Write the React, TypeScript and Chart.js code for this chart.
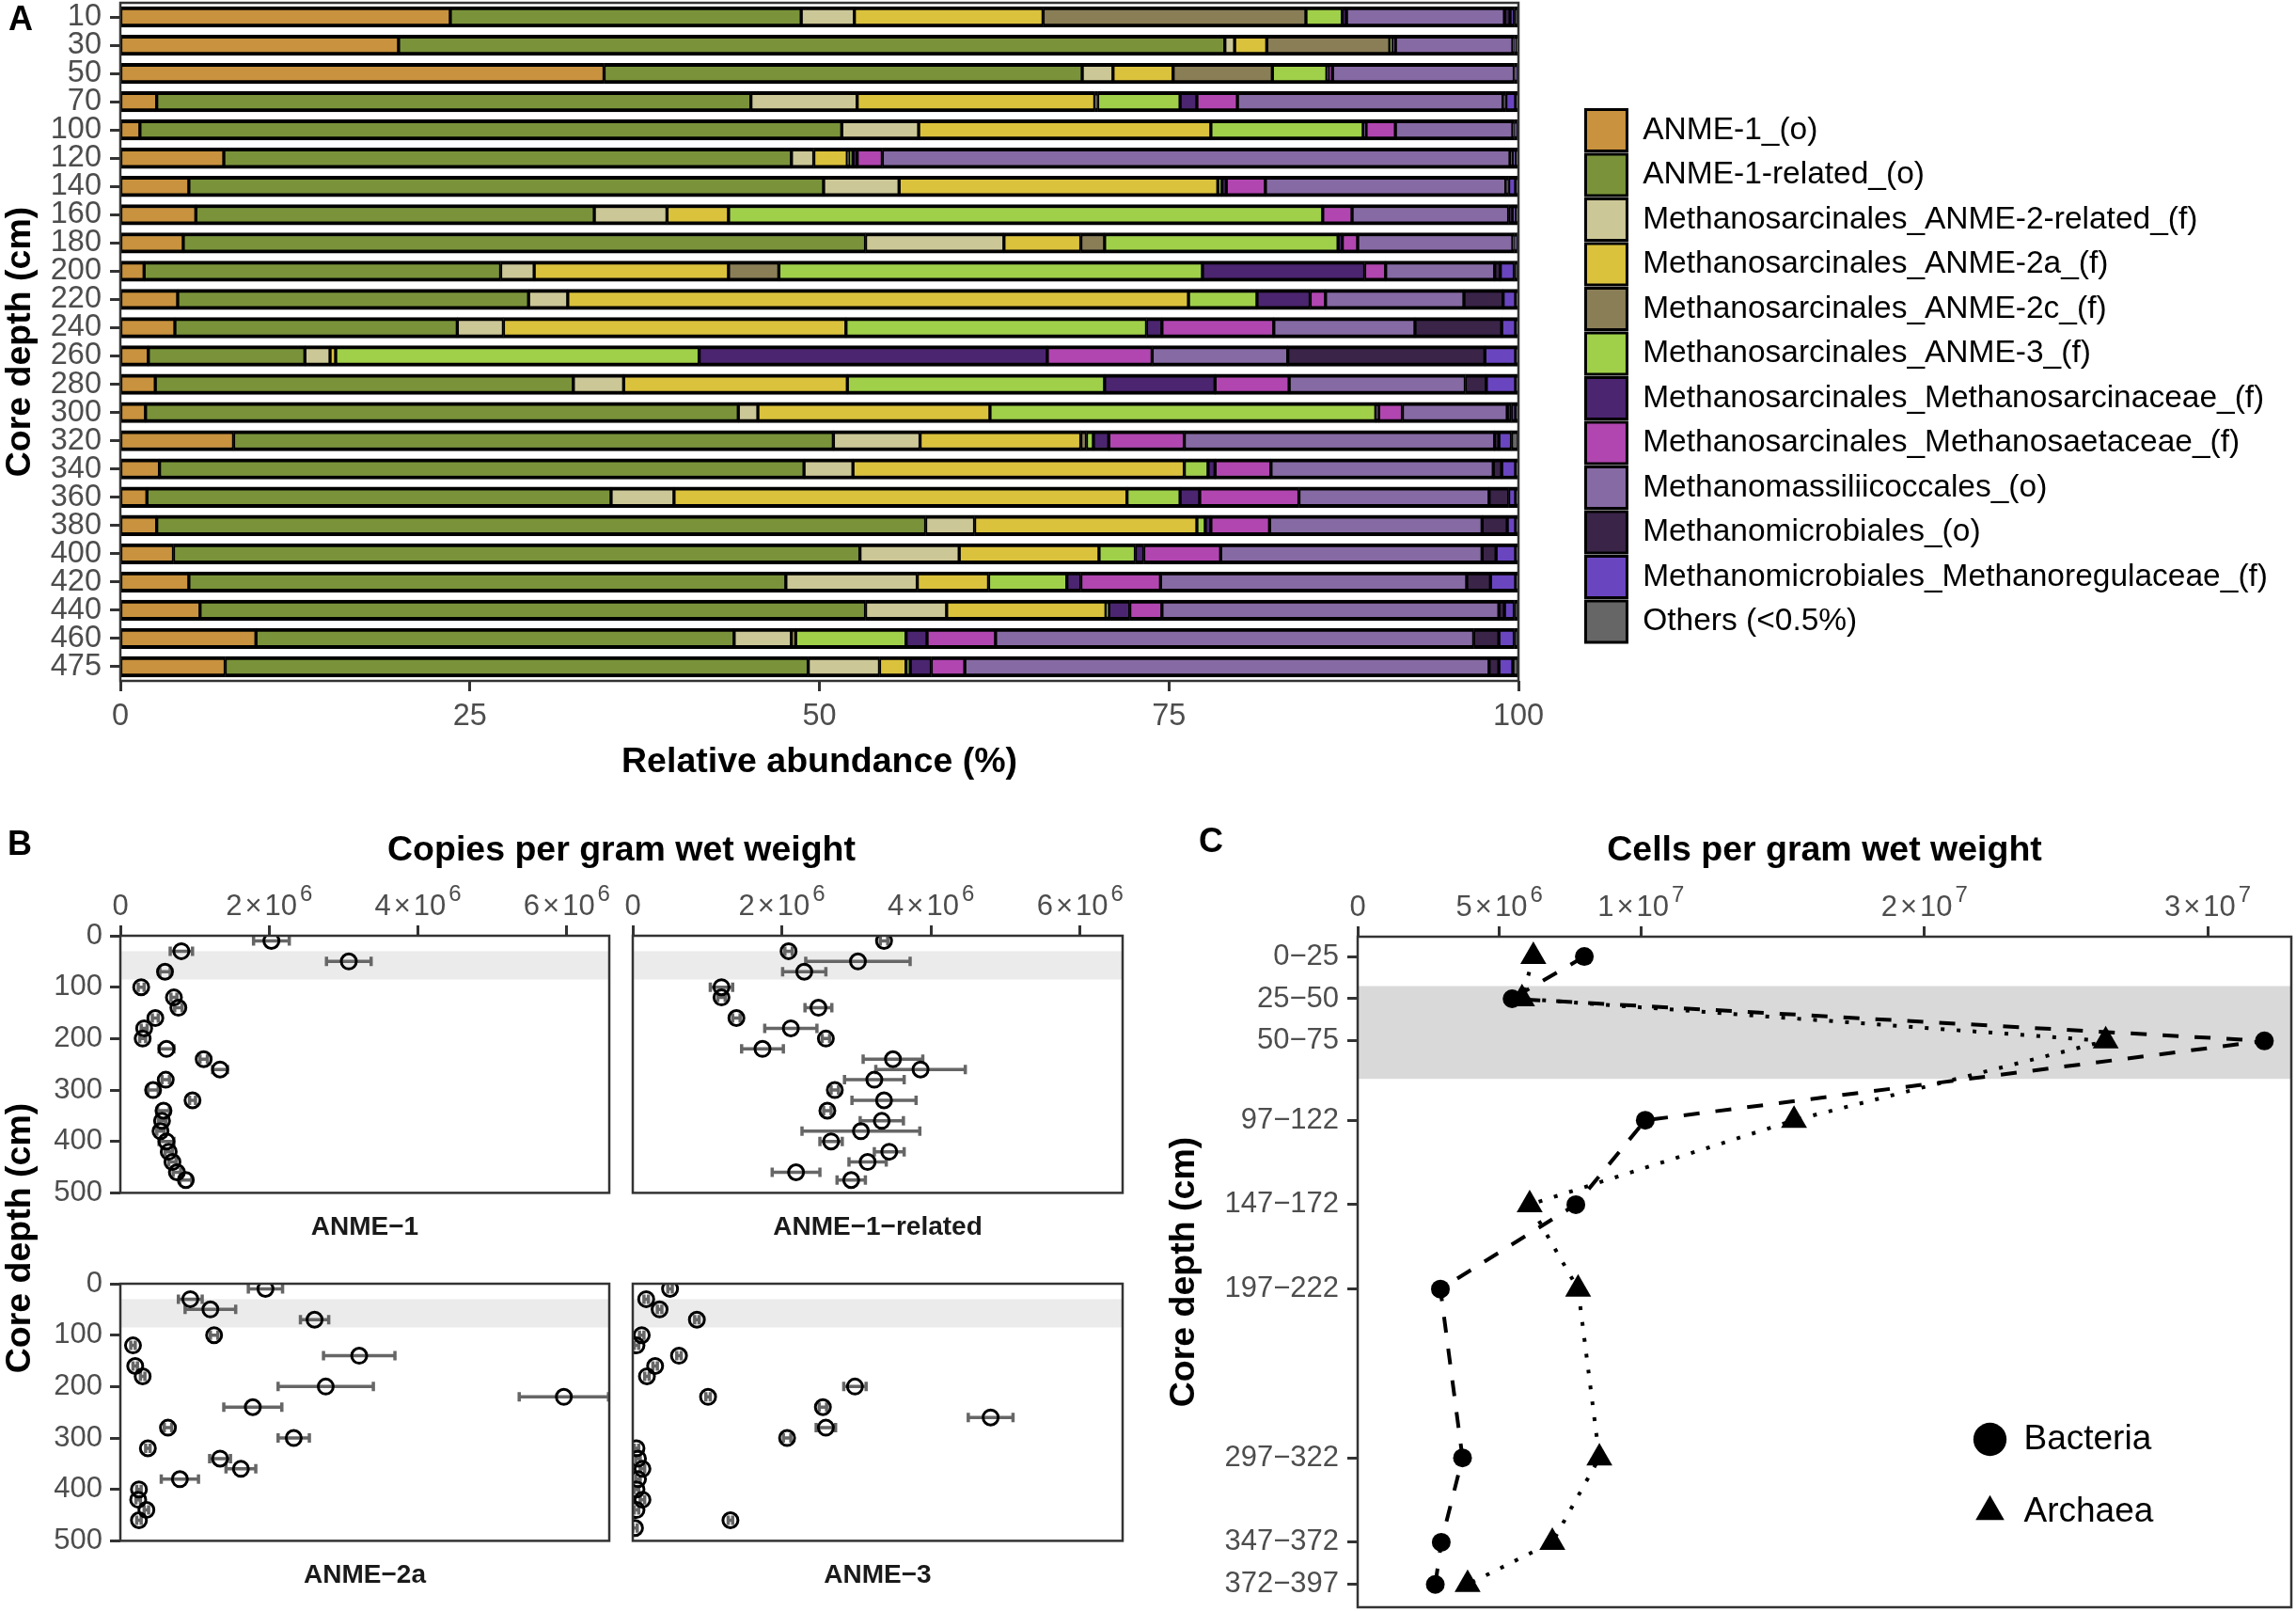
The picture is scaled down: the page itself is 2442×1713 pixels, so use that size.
import React, { useEffect, useMemo, useRef } from "react";
import { Chart, registerables } from "chart.js";

Chart.register(...registerables);

const FONT = '"Liberation Sans", Arial, "DejaVu Sans", sans-serif';
Chart.defaults.font.family = FONT;
Chart.defaults.color = "#4D4D4D";

const TICK_COLOR = "#4D4D4D";
const FRAME_COLOR = "#333333";
const TICK_SIZE_A = 32.5;
const TICK_SIZE = 31;
const TITLE_SIZE = 37.5;
const LEGEND_A_SIZE = 33.5;

// ---------------- Panel A: relative abundance ----------------
const depthsA = ["10", "30", "50", "70", "100", "120", "140", "160", "180", "200", "220", "240", "260", "280", "300", "320", "340", "360", "380", "400", "420", "440", "460", "475"];

const taxa = [
  "ANME-1_(o)",
  "ANME-1-related_(o)",
  "Methanosarcinales_ANME-2-related_(f)",
  "Methanosarcinales_ANME-2a_(f)",
  "Methanosarcinales_ANME-2c_(f)",
  "Methanosarcinales_ANME-3_(f)",
  "Methanosarcinales_Methanosarcinaceae_(f)",
  "Methanosarcinales_Methanosaetaceae_(f)",
  "Methanomassiliicoccales_(o)",
  "Methanomicrobiales_(o)",
  "Methanomicrobiales_Methanoregulaceae_(f)",
  "Others (<0.5%)",
];

const taxaColors = ["#C9923E", "#7A933A", "#CCC797", "#DBC23D", "#8A7E57", "#A0D04A", "#4B2570", "#B146B0", "#866AA4", "#3A2448", "#6A45C0", "#666666"];

const anme1 = [23.6, 19.9, 34.6, 2.6, 1.4, 7.4, 4.9, 5.4, 4.5, 1.7, 4.1, 3.9, 2.0, 2.5, 1.8, 8.1, 2.8, 1.9, 2.6, 3.8, 4.9, 5.7, 9.7, 7.5];
const anme1Related = [25.1, 59.1, 34.2, 42.5, 50.2, 40.6, 45.4, 28.5, 48.8, 25.5, 25.1, 20.2, 11.2, 29.9, 42.4, 42.9, 46.1, 33.2, 55.0, 49.1, 42.7, 47.6, 34.2, 41.7];
const anme2Related = [3.8, 0.7, 2.2, 7.6, 5.5, 1.6, 5.4, 5.2, 9.9, 2.4, 2.8, 3.3, 1.8, 3.6, 1.4, 6.2, 3.5, 4.5, 3.5, 7.1, 9.4, 5.8, 4.1, 5.1];
const anme2a = [13.5, 2.3, 4.3, 17.0, 20.9, 2.4, 22.8, 4.4, 5.5, 13.9, 44.4, 24.5, 0.4, 16.0, 16.6, 11.5, 23.7, 32.4, 15.9, 10.0, 5.1, 11.4, 0.3, 1.9];
const anme2c = [18.8, 8.8, 7.1, 0.2, 0, 0.1, 0, 0, 1.7, 3.6, 0, 0, 0, 0, 0, 0.4, 0, 0, 0, 0, 0, 0, 0, 0];
const anme3 = [2.6, 0.2, 3.9, 5.9, 10.9, 0.3, 0.3, 42.5, 16.7, 30.3, 4.9, 21.5, 26.0, 18.4, 27.6, 0.5, 1.7, 3.8, 0.6, 2.6, 5.6, 0.2, 7.9, 0.3];
const sarcinaceae = [0.3, 0.2, 0.1, 1.2, 0.2, 0.3, 0.3, 0, 0.3, 11.6, 3.8, 1.1, 24.9, 7.9, 0.2, 1.1, 0.5, 1.4, 0.4, 0.6, 1.0, 1.5, 1.5, 1.5];
const saetaceae = [0, 0, 0.3, 2.9, 2.1, 1.8, 2.8, 2.1, 1.1, 1.5, 1.1, 8.0, 7.5, 5.3, 1.7, 5.4, 4.0, 7.1, 4.2, 5.5, 5.7, 2.3, 4.9, 2.4];
const massilii = [11.3, 8.4, 13.0, 19.0, 8.4, 44.9, 17.2, 11.2, 11.1, 7.8, 9.9, 10.1, 9.7, 12.6, 7.5, 22.2, 15.9, 13.6, 15.2, 18.7, 21.9, 24.1, 34.2, 37.5];
const microbiales = [0.4, 0.1, 0.1, 0.2, 0.1, 0.2, 0.2, 0.3, 0.1, 0.4, 2.8, 6.2, 14.1, 1.5, 0.3, 0.3, 0.6, 1.4, 1.8, 1.0, 1.7, 0.4, 1.8, 0.7];
const regulaceae = [0.3, 0.1, 0.1, 0.7, 0.2, 0.2, 0.5, 0.2, 0.2, 1.0, 0.9, 1.0, 2.2, 2.1, 0.3, 0.9, 1.0, 0.5, 0.6, 1.4, 1.8, 0.7, 1.1, 1.0];
const others = [0.3, 0.2, 0.1, 0.2, 0.1, 0.2, 0.2, 0.2, 0.1, 0.3, 0.2, 0.2, 0.2, 0.2, 0.2, 0.5, 0.2, 0.2, 0.2, 0.2, 0.2, 0.3, 0.3, 0.4];

const abundanceSeries = [anme1, anme1Related, anme2Related, anme2a, anme2c, anme3, sarcinaceae, saetaceae, massilii, microbiales, regulaceae, others];
const xTicksA = [0, 25, 50, 75, 100];

// ---------------- Panel B: qPCR copies ----------------
const depthsB = [10, 30, 50, 70, 100, 120, 140, 160, 180, 200, 220, 240, 260, 280, 300, 320, 340, 360, 380, 400, 420, 440, 460, 475];
const anme1Copies = [2.03e6, 0.82e6, 3.07e6, 0.6e6, 0.28e6, 0.72e6, 0.78e6, 0.47e6, 0.32e6, 0.3e6, 0.62e6, 1.12e6, 1.34e6, 0.61e6, 0.44e6, 0.97e6, 0.58e6, 0.56e6, 0.54e6, 0.62e6, 0.65e6, 0.7e6, 0.76e6, 0.88e6];
const anme1Err = [0.24e6, 0.15e6, 0.3e6, 0.07e6, 0.04e6, 0.04e6, 0.05e6, 0.04e6, 0.04e6, 0.04e6, 0.1e6, 0.05e6, 0.1e6, 0.05e6, 0.07e6, 0.04e6, 0.08e6, 0.05e6, 0.05e6, 0.1e6, 0.05e6, 0.05e6, 0.05e6, 0.08e6];
const anme1RelCopies = [3.37e6, 2.09e6, 3.02e6, 2.3e6, 1.19e6, 1.19e6, 2.49e6, 1.39e6, 2.12e6, 2.59e6, 1.74e6, 3.49e6, 3.86e6, 3.24e6, 2.71e6, 3.37e6, 2.61e6, 3.34e6, 3.06e6, 2.66e6, 3.44e6, 3.15e6, 2.19e6, 2.93e6];
const anme1RelErr = [0.05e6, 0.05e6, 0.7e6, 0.29e6, 0.15e6, 0.05e6, 0.18e6, 0.05e6, 0.35e6, 0.05e6, 0.28e6, 0.4e6, 0.6e6, 0.4e6, 0.05e6, 0.43e6, 0.05e6, 0.29e6, 0.79e6, 0.15e6, 0.2e6, 0.25e6, 0.32e6, 0.19e6];
const depthsB2a = [10, 30, 50, 70, 100, 120, 140, 160, 180, 200, 220, 240, 280, 300, 320, 340, 360, 380, 400, 420, 440, 460];
const anme2aCopies = [1.95e6, 0.94e6, 1.21e6, 2.61e6, 1.26e6, 0.17e6, 3.21e6, 0.2e6, 0.3e6, 2.76e6, 5.96e6, 1.78e6, 0.64e6, 2.33e6, 0.37e6, 1.34e6, 1.62e6, 0.8e6, 0.25e6, 0.24e6, 0.35e6, 0.25e6];
const anme2aErr = [0.23e6, 0.16e6, 0.34e6, 0.19e6, 0.05e6, 0.03e6, 0.48e6, 0.03e6, 0.03e6, 0.64e6, 0.6e6, 0.39e6, 0.05e6, 0.21e6, 0.03e6, 0.14e6, 0.2e6, 0.25e6, 0.03e6, 0.03e6, 0.03e6, 0.03e6];
const anme3Copies = [0.5e6, 0.18e6, 0.36e6, 0.86e6, 0.12e6, 0.05e6, 0.62e6, 0.3e6, 0.19e6, 2.98e6, 1.01e6, 2.55e6, 4.8e6, 2.59e6, 2.07e6, 0.05e6, 0.07e6, 0.13e6, 0.07e6, 0.05e6, 0.13e6, 0.05e6, 1.31e6, 0.03e6];
const anme3Err = [0.03e6, 0.03e6, 0.03e6, 0.03e6, 0.03e6, 0.03e6, 0.03e6, 0.03e6, 0.03e6, 0.15e6, 0.03e6, 0.05e6, 0.3e6, 0.13e6, 0.05e6, 0.03e6, 0.03e6, 0.03e6, 0.03e6, 0.03e6, 0.03e6, 0.03e6, 0.03e6, 0.03e6];
const xTicksB = [0, 2e6, 4e6, 6e6];
const X_MAX_B = 6.57e6;

// ---------------- Panel C: cell counts ----------------
const depthMidC = [12.5, 37.5, 62.5, 109.5, 159.5, 209.5, 309.5, 359.5, 384.5];
const depthLabelsC = ["0\u221225", "25\u221250", "50\u221275", "97\u2212122", "147\u2212172", "197\u2212222", "297\u2212322", "347\u2212372", "372\u2212397"];
const bacteriaCells = [8.0e6, 5.45e6, 32.0e6, 10.15e6, 7.7e6, 2.92e6, 3.7e6, 2.95e6, 2.74e6];
const archaeaCells = [6.2e6, 5.8e6, 26.4e6, 15.4e6, 6.07e6, 7.78e6, 8.53e6, 6.87e6, 3.88e6];
const xTicksC = [0, 5e6, 1e7, 2e7, 3e7];
const X_MAX_C = 3.295e7;

const SMTZ_TOP = 30;
const SMTZ_BOTTOM = 85;

// ---------------- helpers ----------------
function tickGrid() {
  return { display: true, drawOnChartArea: false, drawTicks: true, tickLength: 11, tickWidth: 3, tickColor: FRAME_COLOR, offset: false };
}

function fixW(w: number) {
  return (s: any) => {
    if (s.options.display === false) return;
    s.width = w;
    s.paddingTop = 0;
    s.paddingBottom = 0;
  };
}
function fixH(h: number) {
  return (s: any) => {
    if (s.options.display === false) return;
    s.height = h;
    s.paddingLeft = 0;
    s.paddingRight = 0;
  };
}

const framePlugin = {
  id: "frame",
  afterDatasetsDraw(chart: any, _a: any, opts: any) {
    const { ctx, chartArea: a } = chart;
    ctx.save();
    ctx.strokeStyle = FRAME_COLOR;
    ctx.lineWidth = (opts && opts.width) || 2.5;
    ctx.strokeRect(a.left, a.top, a.right - a.left, a.bottom - a.top);
    ctx.restore();
  },
};

const bandPlugin = {
  id: "band",
  beforeDatasetsDraw(chart: any, _a: any, opts: any) {
    const { ctx, chartArea: a, scales } = chart;
    const y = scales.y;
    const p1 = y.getPixelForValue(opts.from);
    const p2 = y.getPixelForValue(opts.to);
    ctx.save();
    ctx.fillStyle = opts.color;
    ctx.fillRect(a.left, Math.min(p1, p2), a.right - a.left, Math.abs(p2 - p1));
    ctx.restore();
  },
};

const letterPlugin = {
  id: "letter",
  afterDraw(chart: any, _a: any, opts: any) {
    const { ctx } = chart;
    ctx.save();
    ctx.font = `bold ${opts.size}px ${FONT}`;
    ctx.fillStyle = "#000";
    ctx.textAlign = "center";
    ctx.textBaseline = "middle";
    ctx.fillText(opts.text, opts.x, opts.y);
    ctx.restore();
  },
};

// Draws "m × 10^e" tick labels of the x scale with a real superscript exponent.
const sciTickPlugin = {
  id: "sciTicks",
  afterDraw(chart: any, _a: any, opts: any) {
    const scale = chart.scales.x;
    if (!opts || scale.options.display === false) return;
    const { ctx } = chart;
    const base = `normal ${opts.size}px ${FONT}`;
    const sup = `normal ${opts.supSize}px ${FONT}`;
    const y = chart.chartArea.top - opts.offset;
    ctx.save();
    ctx.fillStyle = TICK_COLOR;
    ctx.textBaseline = "alphabetic";
    ctx.textAlign = "left";
    for (const t of scale.ticks) {
      const v = t.value;
      const x = scale.getPixelForValue(v);
      ctx.font = base;
      if (v === 0) {
        const w0 = ctx.measureText("0").width;
        ctx.fillText("0", x - w0 / 2, y);
        continue;
      }
      const e = Math.floor(Math.log10(v) + 1e-9);
      const m = Math.round(v / Math.pow(10, e));
      const parts = [String(m), "\u00D7", "10"];
      const widths = parts.map((s) => ctx.measureText(s).width);
      ctx.font = sup;
      const ex = String(e);
      const we = ctx.measureText(ex).width;
      const total = widths.reduce((a, b) => a + b, 0) + 2 * opts.gap + opts.supGap + we;
      let cx = x - total / 2;
      ctx.font = base;
      parts.forEach((s, i) => {
        ctx.fillText(s, cx, y);
        cx += widths[i] + (i < 2 ? opts.gap : 0);
      });
      ctx.font = sup;
      ctx.fillText(ex, cx + opts.supGap, y - opts.raise);
    }
    ctx.restore();
  },
};
const SCI_TICKS = { size: 31, supSize: 24, offset: 22.5, gap: 3, supGap: 3, raise: 15 };

const baseOptions = { responsive: false, animation: false, devicePixelRatio: 1, events: [] as any[] };

// ---------------- configs ----------------
function configA(): any {
  return {
    type: "bar",
    data: {
      labels: depthsA,
      datasets: taxa.map((name, i) => ({
        label: name,
        data: abundanceSeries[i],
        backgroundColor: taxaColors[i],
        borderColor: "#000000",
        borderWidth: { top: 4, bottom: 4, left: 2, right: 2 },
        borderSkipped: false,
        barThickness: 21.7,
      })),
    },
    options: {
      ...baseOptions,
      indexAxis: "y",
      layout: { padding: { top: 3, left: 0, right: 0, bottom: 0 } },
      scales: {
        x: {
          stacked: true,
          min: 0,
          max: 100,
          position: "bottom",
          afterBuildTicks: (s: any) => { s.ticks = xTicksA.map((v) => ({ value: v })); },
          ticks: { font: { size: TICK_SIZE_A }, color: TICK_COLOR, padding: 8, autoSkip: false, maxRotation: 0 },
          grid: tickGrid(),
          border: { display: false },
          title: { display: true, text: "Relative abundance (%)", font: { size: TITLE_SIZE, weight: "bold" }, color: "#000", padding: { top: 0, bottom: 17 } },
          afterFit: fixH(126),
        },
        y: {
          stacked: true,
          position: "left",
          ticks: { font: { size: TICK_SIZE_A }, color: TICK_COLOR, padding: 9, autoSkip: false },
          grid: tickGrid(),
          border: { display: false },
          title: { display: true, text: "Core depth (cm)", font: { size: TITLE_SIZE, weight: "bold" }, color: "#000", padding: { top: -1, bottom: 0 } },
          afterFit: fixW(128),
        },
        yRight: {
          type: "linear",
          position: "right",
          display: true,
          ticks: { display: false },
          grid: { display: false },
          border: { display: false },
          afterFit: (s: any) => { s.width = s.chart.width - 1615 - s.chart.legend.width; s.paddingTop = 0; s.paddingBottom = 0; },
        },
      },
      plugins: {
        legend: {
          display: true,
          position: "right",
          align: "start",
          maxWidth: 1000,
          title: { display: true, text: " ", font: { size: 10 }, padding: { top: 0, bottom: 98 } },
          labels: { boxWidth: 44, boxHeight: 44, padding: 3.5, font: { size: LEGEND_A_SIZE }, color: "#000" },
        },
        tooltip: { enabled: false },
        frame: { width: 2.5 },
        letter: { text: "A", x: 22, y: 22, size: 36 },
      },
    },
    plugins: [framePlugin, letterPlugin],
  };
}

function configFrameB(): any {
  return {
    type: "scatter",
    data: { datasets: [] },
    options: {
      ...baseOptions,
      layout: { padding: { right: 6, bottom: 32 } },
      scales: {
        x: {
          type: "linear", position: "top", min: 0, max: 1, display: true,
          ticks: { display: false }, grid: { display: false }, border: { display: false },
          title: { display: true, text: "Copies per gram wet weight", font: { size: TITLE_SIZE, weight: "bold" }, color: "#000", padding: { top: 12, bottom: 0 } },
          afterFit: fixH(125),
        },
        y: {
          type: "linear", position: "left", min: 0, max: 1, display: true,
          ticks: { display: false }, grid: { display: false }, border: { display: false },
          title: { display: true, text: "Core depth (cm)", font: { size: TITLE_SIZE, weight: "bold" }, color: "#000", padding: { top: -1, bottom: 0 } },
          afterFit: fixW(128),
        },
      },
      plugins: { legend: { display: false }, tooltip: { enabled: false }, letter: { text: "B", x: 21, y: 29, size: 36 } },
    },
    plugins: [letterPlugin],
  };
}

function configPanelB(p: { xs: number[]; ys: number[]; errs: number[]; strip: string; showX: boolean; showY: boolean; padding: any }): any {
  const points = {
    label: p.strip,
    data: p.xs.map((v, i) => ({ x: v, y: p.ys[i] })),
    showLine: false,
    pointStyle: "circle",
    pointRadius: 8,
    pointBorderWidth: 3,
    pointBorderColor: "#000000",
    pointBackgroundColor: "rgba(0,0,0,0)",
  };
  const errorBars = p.xs.map((v, i) => ({
    label: "err",
    data: [{ x: v - p.errs[i], y: p.ys[i] }, { x: v + p.errs[i], y: p.ys[i] }],
    showLine: true,
    borderColor: "#666666",
    borderWidth: 3.5,
    pointStyle: "line",
    rotation: 90,
    pointRadius: 5,
    pointBorderColor: "#666666",
    pointBorderWidth: 3.5,
    pointBackgroundColor: "#666666",
  }));
  return {
    type: "scatter",
    data: { datasets: [points, ...errorBars] },
    options: {
      ...baseOptions,
      layout: { padding: p.padding },
      scales: {
        x: {
          type: "linear", position: "top", min: 0, max: X_MAX_B, display: p.showX,
          afterBuildTicks: (s: any) => { s.ticks = xTicksB.map((v) => ({ value: v })); },
          ticks: { display: false },
          grid: tickGrid(), border: { display: false },
          afterFit: fixH(125),
        },
        y: {
          type: "linear", reverse: true, min: 0, max: 500, display: p.showY,
          ticks: { stepSize: 100, font: { size: TICK_SIZE }, color: TICK_COLOR, padding: 8, autoSkip: false },
          grid: tickGrid(), border: { display: false },
          afterFit: fixW(128),
        },
      },
      plugins: {
        legend: { display: false },
        tooltip: { enabled: false },
        title: { display: true, text: p.strip, position: "bottom", fullSize: false, font: { size: 28, weight: "bold" }, color: "#1A1A1A", padding: { top: 20, bottom: 10 } },
        band: { from: SMTZ_TOP, to: SMTZ_BOTTOM, color: "#EBEBEB" },
        frame: { width: 2.5 },
        sciTicks: SCI_TICKS,
      },
    },
    plugins: [bandPlugin, framePlugin, sciTickPlugin],
  };
}

function configC(): any {
  return {
    type: "scatter",
    data: {
      datasets: [
        {
          label: "Bacteria",
          data: bacteriaCells.map((v, i) => ({ x: v, y: depthMidC[i] })),
          showLine: true,
          borderColor: "#000000",
          borderWidth: 4,
          borderDash: [17, 17],
          pointStyle: "circle",
          pointRadius: 10,
          pointBorderWidth: 0,
          pointBackgroundColor: "#000000",
          backgroundColor: "#000000",
        },
        {
          label: "Archaea",
          data: archaeaCells.map((v, i) => ({ x: v, y: depthMidC[i] })),
          showLine: true,
          borderColor: "#000000",
          borderWidth: 4,
          borderDash: [4, 13],
          pointStyle: "triangle",
          pointRadius: 16,
          pointBorderWidth: 0,
          pointBackgroundColor: "#000000",
          backgroundColor: "#000000",
        },
      ],
    },
    options: {
      ...baseOptions,
      layout: { padding: { right: 25, bottom: 34 } },
      scales: {
        x: {
          type: "linear", position: "top", min: 0, max: X_MAX_C,
          afterBuildTicks: (s: any) => { s.ticks = xTicksC.map((v) => ({ value: v })); },
          ticks: { display: false },
          grid: tickGrid(), border: { display: false },
          title: { display: true, text: "Cells per gram wet weight", font: { size: TITLE_SIZE, weight: "bold" }, color: "#000", padding: { top: 12, bottom: 0 } },
          afterFit: fixH(126),
        },
        y: {
          type: "linear", reverse: true, min: 0.75, max: 398,
          afterBuildTicks: (s: any) => { s.ticks = depthMidC.map((v) => ({ value: v })); },
          ticks: { callback: (_v: any, i: number) => depthLabelsC[i], font: { size: TICK_SIZE }, color: TICK_COLOR, padding: 9, autoSkip: false },
          grid: tickGrid(), border: { display: false },
          title: { display: true, text: "Core depth (cm)", font: { size: TITLE_SIZE, weight: "bold" }, color: "#000", padding: { top: -1, bottom: 0 } },
          afterFit: fixW(206),
        },
      },
      plugins: {
        legend: { display: false },
        tooltip: { enabled: false },
        band: { from: SMTZ_TOP, to: SMTZ_BOTTOM, color: "#D9D9D9" },
        frame: { width: 2.5 },
        letter: { text: "C", x: 50, y: 26, size: 36 },
        sciTicks: SCI_TICKS,
      },
    },
    plugins: [bandPlugin, framePlugin, letterPlugin, sciTickPlugin],
  };
}

function configLegendC(): any {
  return {
    type: "scatter",
    data: {
      datasets: [
        { label: "Bacteria", data: [], pointStyle: "circle", pointBackgroundColor: "#000", backgroundColor: "#000", borderColor: "#000", pointBorderWidth: 0, borderWidth: 0 },
        { label: "Archaea", data: [], pointStyle: "triangle", pointBackgroundColor: "#000", backgroundColor: "#000", borderColor: "#000", pointBorderWidth: 0, borderWidth: 0 },
      ],
    },
    options: {
      ...baseOptions,
      scales: { x: { display: false, min: 0, max: 1 }, y: { display: false, min: 0, max: 1 } },
      plugins: {
        tooltip: { enabled: false },
        legend: {
          display: true,
          position: "left",
          align: "start",
          maxWidth: 340,
          labels: { usePointStyle: true, boxWidth: 35, boxHeight: 25, padding: 40, font: { size: 37 }, color: "#000" },
        },
      },
    },
  };
}

// ---------------- components ----------------
function ChartBox({ make, left, top, width, height }: { make: () => any; left: number; top: number; width: number; height: number }) {
  const ref = useRef<HTMLCanvasElement>(null);
  useEffect(() => {
    const chart = new Chart(ref.current as HTMLCanvasElement, make());
    return () => chart.destroy();
  }, []);
  return <canvas ref={ref} width={width} height={height} style={{ position: "absolute", left, top, width, height }} />;
}

function measureLegendWidth(): number {
  const c = document.createElement("canvas").getContext("2d");
  if (!c) return 660;
  c.font = `normal ${LEGEND_A_SIZE}px ${FONT}`;
  return Math.max(...taxa.map((t) => c.measureText(t).width));
}

export default function App() {
  const widthA = useMemo(() => Math.min(2442, Math.ceil(1756.75 + measureLegendWidth())), []);
  return (
    <div style={{ position: "absolute", left: 0, top: 0, width: 2442, height: 1713, background: "#ffffff", overflow: "hidden" }}>
      <ChartBox make={configA} left={0} top={0} width={widthA} height={850} />
      <ChartBox make={configFrameB} left={0} top={870} width={1200} height={800} />
      <ChartBox
        make={() => configPanelB({ xs: anme1Copies, ys: depthsB, errs: anme1Err, strip: "ANME\u22121", showX: true, showY: true, padding: { right: 12 } })}
        left={0} top={870} width={660} height={462}
      />
      <ChartBox
        make={() => configPanelB({ xs: anme1RelCopies, ys: depthsB, errs: anme1RelErr, strip: "ANME\u22121\u2212related", showX: true, showY: false, padding: { left: 13, right: 11 } })}
        left={660} top={870} width={545} height={462}
      />
      <ChartBox
        make={() => configPanelB({ xs: anme2aCopies, ys: depthsB2a, errs: anme2aErr, strip: "ANME\u22122a", showX: false, showY: true, padding: { top: 25, right: 12 } })}
        left={0} top={1340} width={660} height={362}
      />
      <ChartBox
        make={() => configPanelB({ xs: anme3Copies, ys: depthsB, errs: anme3Err, strip: "ANME\u22123", showX: false, showY: false, padding: { top: 25, left: 13, right: 11 } })}
        left={660} top={1340} width={545} height={362}
      />
      <ChartBox make={configC} left={1238} top={870} width={1224} height={873} />
      <ChartBox make={configLegendC} left={2059} top={1472} width={360} height={240} />
    </div>
  );
}
